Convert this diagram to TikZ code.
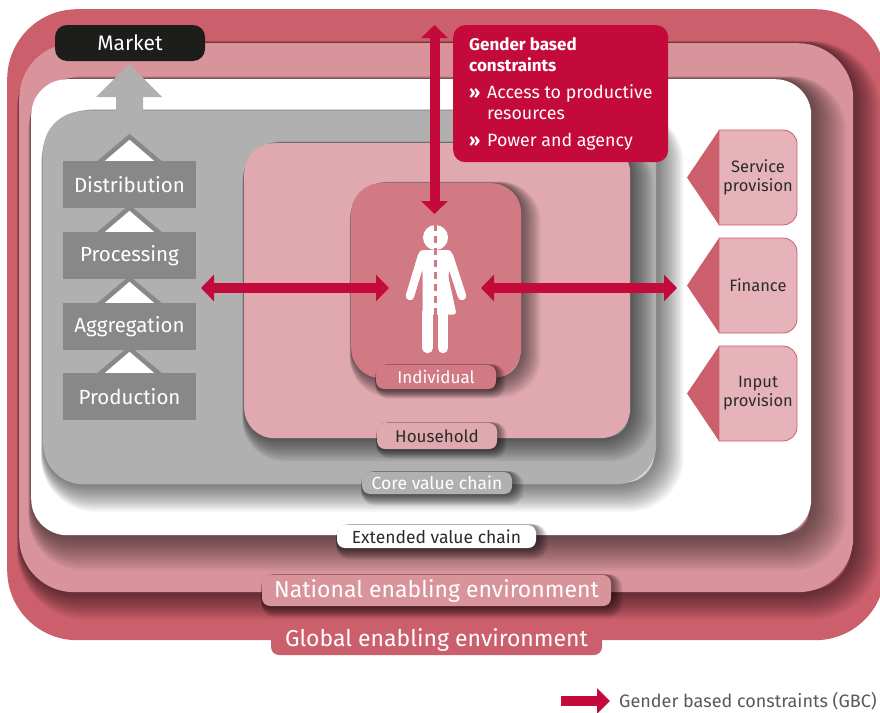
\documentclass[tikz,border=0pt]{standalone}
\usepackage{fontspec}
\setmainfont{Fira Sans}
\usetikzlibrary{positioning,calc,arrows.meta}
\definecolor{globalcol}{HTML}{CB5F6B}
\definecolor{nationalcol}{HTML}{D8939B}
\definecolor{corecol}{HTML}{B0B0B0}
\definecolor{stagecol}{HTML}{888888}
\definecolor{householdcol}{HTML}{E0A9B0}
\definecolor{individualcol}{HTML}{D27A83}
\definecolor{gbccol}{HTML}{C40A3A}
\definecolor{marketcol}{HTML}{1D1D1B}
\definecolor{sidecol}{HTML}{E6B3BB}
\definecolor{inkcol}{HTML}{2B2B2B}
\tikzset{
	softlayer/.style={preaction={draw=black,opacity=.045,line width=#1*1.06pt,transform canvas={shift={(#1*.45pt,-#1*.45pt)}}}},
	softshadow/.style={
		softlayer={#1*1},softlayer={#1*.93},softlayer={#1*.86},softlayer={#1*.79},
		softlayer={#1*.72},softlayer={#1*.65},softlayer={#1*.58},softlayer={#1*.51},
		softlayer={#1*.44},softlayer={#1*.37},softlayer={#1*.3},softlayer={#1*.23},
		softlayer={#1*.16},softlayer={#1*.09}},
	panel/.style={inner sep=0pt,anchor=north west},
	tag/.style={inner sep=0pt,rounded corners=8pt,font=\fontsize{17}{17}\selectfont},
	stagebox/.style={fill=stagecol,text=white,minimum width=133pt,minimum height=47pt,inner sep=0pt,font=\fontsize{20.5}{20.5}\selectfont},
	gbcarrow/.style={line width=10pt,draw=gbccol,{Triangle[length=13pt,width=26pt]}-{Triangle[length=13pt,width=26pt]}},
}
\begin{document}
\begin{tikzpicture}[x=1pt,y=-1pt]
	\useasboundingbox (0,0) rectangle (880,712);
	% nested environments
	\node[panel,fill=globalcol,rounded corners=70pt,minimum width=878pt,minimum height=631pt] (global) at (7,9) {};
	\node[panel,softshadow=28,fill=nationalcol,rounded corners=55pt,minimum width=834pt,minimum height=549pt] (national) at (19,43) {};
	\node[panel,softshadow=36,fill=white,rounded corners=36pt,minimum width=780pt,minimum height=456pt] (extended) at (31,79) {};
	\node[panel,softshadow=28,fill=corecol,rounded corners=40pt,minimum width=613pt,minimum height=373pt] (core) at (43,111) {};
	\node[panel,softshadow=24,fill=householdcol,rounded corners=30pt,minimum width=386pt,minimum height=295pt] (household) at (244,143) {};
	\node[panel,softshadow=20,fill=individualcol,rounded corners=30pt,minimum width=170pt,minimum height=195pt] (individual) at (351,183) {};

	% tags on the boxes
	\node[tag,softshadow=10,fill=individualcol,text=white,minimum width=120pt,minimum height=24pt] (individualtag) at (436,377) {Individual};
	\node[tag,softshadow=10,fill=householdcol,text=inkcol,minimum width=120pt,minimum height=26pt] (householdtag) at (437,436) {Household};
	\node[tag,softshadow=12,fill=corecol,text=white,minimum width=150pt,minimum height=22pt,font=\fontsize{17.5}{17.5}\selectfont] (coretag) at (437,483) {Core value chain};
	\node[tag,softshadow=12,fill=white,text=inkcol,minimum width=199pt,minimum height=23pt,font=\fontsize{17.5}{17.5}\selectfont] (extendedtag) at (436.5,536.5) {Extended value chain};
	\node[tag,softshadow=12,fill=nationalcol,text=white,minimum width=349pt,minimum height=31pt,font=\fontsize{23}{23}\selectfont] (nationaltag) at (436.5,590.5) {National enabling environment};
	\node[tag,fill=globalcol,text=white,minimum width=331pt,minimum height=30pt,font=\fontsize{23}{23}\selectfont] (globaltag) at (436.5,640) {Global enabling environment};

	% market and the big arrow
	\fill[corecol] (116,112)--(116,97)--(96,97)--(129,64)--(162,97)--(143,97)--(143,112)--cycle;
	\node[fill=marketcol,text=white,rounded corners=12pt,inner sep=0pt,minimum width=150pt,minimum height=36pt,font=\fontsize{21}{21}\selectfont] (market) at (130,43) {Market};

	% stages
	\foreach \idi/\stagey/\stagename in {1/184.5/Distribution,2/255.5/Processing,3/326.5/Aggregation,4/396.5/Production}{%
		\node[stagebox] (stage\idi) at (129.5,\stagey) {\stagename};
		\fill[stagecol] (stage\idi.north) ++(-32,0)--++(32,-27)--++(32,27)--cycle;
		\fill[white] (stage\idi.north) ++(-24.5,0)--++(24.5,-21)--++(24.5,21)--cycle;
	}

	% person
	\node[circle,fill=white,minimum size=25pt,inner sep=0pt] (head) at (435.5,237.5) {};
	\fill[white,rounded corners=3pt] (420,250)--(451,250)--(453,262)--(448,275)--(456.5,314.5)--(422.5,314.5)--(422.5,270)--(418,256)--cycle;
	\draw[white,line width=8.5pt,line cap=round] (422,256)--(410,296);
	\draw[white,line width=8.5pt,line cap=round] (449,256)--(462,296);
	\draw[white,line width=10.5pt,line cap=round] (427.7,312)--(427.7,348);
	\draw[white,line width=10.5pt,line cap=round] (443.2,312)--(443.2,348);
	\draw[individualcol,line width=3.5pt,dash pattern=on 7pt off 5pt] (435.5,224)--(435.5,315);

	% side services
	\foreach \idi/\sidey/\sidename in {1/177.5/{Service\\provision},2/285.5/Finance,3/393.5/{Input\\provision}}{%
		\fill[globalcol] (687,\sidey)--(719,\sidey-47.5)--(719,\sidey+47.5)--cycle;
		\draw[fill=sidecol,draw=globalcol,thick] (719,\sidey-47.5) [rounded corners=14pt] --(797,\sidey-47.5)--(797,\sidey+47.5) [sharp corners] --(719,\sidey+47.5)--cycle;
		\node[align=center,inner sep=0pt,text=inkcol,font=\fontsize{16.5}{19}\selectfont] (side\idi) at (758,\sidey) {\sidename};
	}

	% constraints box
	\node[panel,fill=gbccol,rounded corners=12pt,minimum width=215pt,minimum height=137pt] (gbcbox) at (453,25) {};
	\node[anchor=north west,inner sep=0pt,align=left,text=white,font=\fontsize{17.8}{21}\selectfont] (gbctext) at (469,37) {\textbf{\fontsize{17}{21}\selectfont Gender based}\\\textbf{\fontsize{17}{21}\selectfont constraints}\\[6pt]\makebox[18pt][l]{\textbf{»}}Access to productive\\\hspace*{18pt}resources\\[6pt]\makebox[18pt][l]{\textbf{»}}Power and agency};

	% gbc arrows
	\coordinate (gbctop) at (434.5,25);
	\coordinate (gbcbottom) at (434.5,214);
	\coordinate (gbcleft) at (201,288);
	\coordinate (gbcmid) at (389,288);
	\coordinate (gbcinner) at (481,288);
	\coordinate (gbcright) at (677,288);
	\draw[gbcarrow] (gbctop)--(gbcbottom);
	\draw[gbcarrow] (gbcleft)--(gbcmid);
	\draw[gbcarrow] (gbcinner)--(gbcright);

	% legend
	\coordinate (legendstart) at (561,701);
	\coordinate (legendend) at (610,701);
	\node[anchor=west,inner sep=0pt,text=black!65,font=\fontsize{18}{18}\selectfont] (legend) at (619,701) {Gender based constraints (GBC)};
	\draw[line width=10pt,draw=gbccol,-{Triangle[length=13pt,width=25pt]}] (legendstart)--(legendend);
\end{tikzpicture}
\end{document}
